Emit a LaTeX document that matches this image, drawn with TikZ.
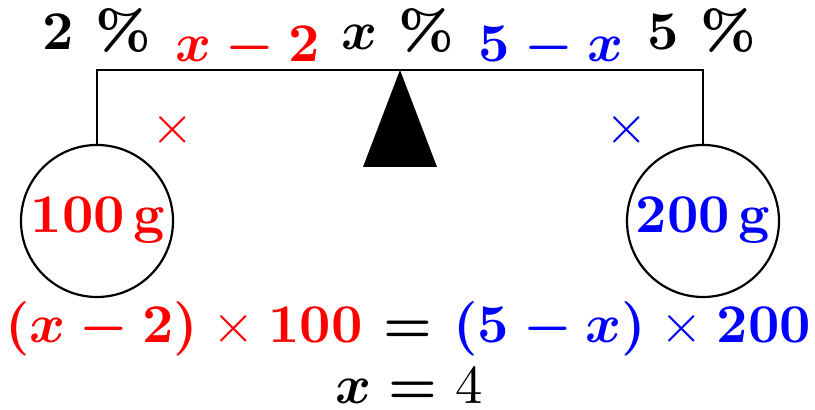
\documentclass[tikz,border=0pt]{standalone}
\usepackage{amsmath}
\newcommand\thintimes{\mathbin{\mbox{\unboldmath$\times$}}}
\newcommand\heavypct{\mbox{\fontsize{8}{9}\selectfont\bfseries\scalebox{1.25}{\%}}}
\begin{document}
\begin{tikzpicture}[x=0.5pt,y=-0.5pt,
  txt/.style={font=\bfseries\boldmath, inner sep=0pt, scale=2.73, anchor=base},
  wire/.style={line width=1.1pt},
  ball/.style={circle, draw, line width=1.1pt, minimum size=76pt, inner sep=0pt}]
\useasboundingbox (0,0) rectangle (815,410);
\definecolor{myred}{RGB}{255,0,0}
\definecolor{myblue}{RGB}{0,0,255}
\coordinate (bl) at (97,70);
\coordinate (br) at (703,70);
\coordinate (apex) at (400,70);
\node[ball] (lb) at (97,221) {};
\node[ball] (rb) at (703,221) {};
\draw[wire] (lb.north) -- (bl) -- (br) -- (rb.north);
\fill (apex) -- (437,167) -- (363,167) -- cycle;
\node[txt] (p2) at (97,50) {2 \heavypct};
\node[txt,text=myred] (l1) at (248,62) {$x-2$};
\node[txt] (px) at (398,50) {$x$ \heavypct};
\node[txt,text=myblue] (l2) at (551,62) {$5-x$};
\node[txt] (p5) at (702,50) {5 \heavypct};
\node[txt,text=myred,anchor=center] (t1) at (173,130) {$\thintimes$};
\node[txt,text=myblue,anchor=center] (t2) at (627,130) {$\thintimes$};
\node[txt,text=myred] (m1) at (98,233) {100\,g};
\node[txt,text=myblue] (m2) at (703,233) {200\,g};
\node[txt] (eq) at (408,343) {\textcolor{myred}{$(x-2)\thintimes 100$} $=$ \textcolor{myblue}{$(5-x)\thintimes 200$}};
\node[txt] (sol) at (409,404) {$x=\mbox{\unboldmath$4$}$};
\end{tikzpicture}
\end{document}
